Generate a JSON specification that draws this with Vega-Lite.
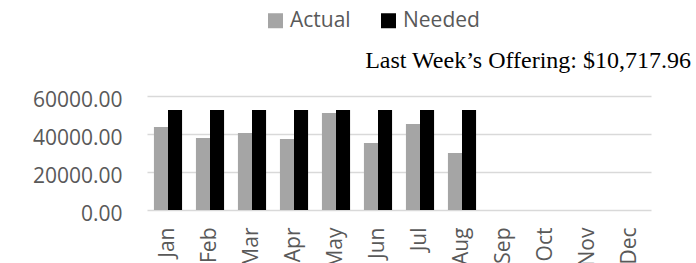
{
  "$schema": "https://vega.github.io/schema/vega-lite/v6.json",
  "width": 504,
  "height": 114,
  "autosize": {"type": "none"},
  "padding": {"left": 147, "top": 96, "right": 45, "bottom": 53},
  "background": "white",
  "title": {
    "text": "Last Week’s Offering: $10,717.96",
    "font": "Liberation Serif",
    "fontSize": 24,
    "fontWeight": "normal",
    "color": "#000000",
    "anchor": "end",
    "frame": "group",
    "dx": 40,
    "offset": 0,
    "dy": 63
  },
  "data": {
    "values": [
      {"month": "Jan", "series": "Actual", "value": 43700},
      {"month": "Jan", "series": "Needed", "value": 52600},
      {"month": "Feb", "series": "Actual", "value": 37900},
      {"month": "Feb", "series": "Needed", "value": 52600},
      {"month": "Mar", "series": "Actual", "value": 40500},
      {"month": "Mar", "series": "Needed", "value": 52600},
      {"month": "Apr", "series": "Actual", "value": 37400},
      {"month": "Apr", "series": "Needed", "value": 52600},
      {"month": "May", "series": "Actual", "value": 51000},
      {"month": "May", "series": "Needed", "value": 52600},
      {"month": "Jun", "series": "Actual", "value": 35300},
      {"month": "Jun", "series": "Needed", "value": 52600},
      {"month": "Jul", "series": "Actual", "value": 45300},
      {"month": "Jul", "series": "Needed", "value": 52600},
      {"month": "Aug", "series": "Actual", "value": 30000},
      {"month": "Aug", "series": "Needed", "value": 52600},
      {"month": "Sep", "series": "Actual", "value": null},
      {"month": "Oct", "series": "Actual", "value": null},
      {"month": "Nov", "series": "Actual", "value": null},
      {"month": "Dec", "series": "Actual", "value": null}
    ]
  },
  "mark": {"type": "bar"},
  "encoding": {
    "x": {
      "field": "month",
      "type": "nominal",
      "sort": ["Jan","Feb","Mar","Apr","May","Jun","Jul","Aug","Sep","Oct","Nov","Dec"],
      "scale": {"paddingInner": 0.33, "paddingOuter": 0.165},
      "axis": {
        "title": null,
        "labelAngle": -90,
        "labelFont": "Open Sans",
        "labelFontSize": 21,
        "labelColor": "#595959",
        "labelPadding": 17,
        "ticks": false,
        "domain": false,
        "grid": false
      }
    },
    "xOffset": {"field": "series", "type": "nominal", "sort": ["Actual", "Needed"]},
    "y": {
      "field": "value",
      "type": "quantitative",
      "scale": {"domain": [0, 60000]},
      "axis": {
        "title": null,
        "values": [0, 20000, 40000, 60000],
        "format": ".2f",
        "labelFont": "Open Sans",
        "labelFontSize": 21,
        "labelColor": "#595959",
        "labelPadding": 25,
        "labelOffset": 4,
        "ticks": false,
        "domain": false,
        "grid": true,
        "gridColor": "#D9D9D9",
        "gridWidth": 1.5
      }
    },
    "color": {
      "field": "series",
      "type": "nominal",
      "scale": {"domain": ["Actual", "Needed"], "range": ["#A5A5A5", "#000000"]},
      "legend": {
        "title": null,
        "orient": "none",
        "direction": "horizontal",
        "legendX": 118,
        "legendY": -86,
        "symbolType": "square",
        "symbolSize": 225,
        "symbolStrokeWidth": 0,
        "labelFont": "Open Sans",
        "labelFontSize": 21,
        "labelColor": "#595959",
        "columnPadding": 27,
        "labelOffset": 4
      }
    }
  },
  "config": {"view": {"stroke": null}}
}
